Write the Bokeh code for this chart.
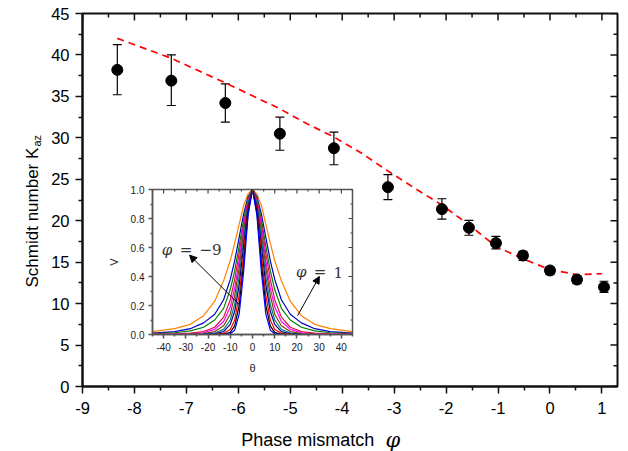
import math
from bokeh.plotting import figure
from bokeh.models import (ColumnDataSource, FixedTicker, Whisker, TeeHead,
                          Label, Arrow, NormalHead, Range1d)
from bokeh.layouts import column
from bokeh.embed import file_html
from bokeh.resources import INLINE

# ---------------- main data ----------------
phase = [-8.33, -7.29, -6.25, -5.20, -4.16, -3.12, -2.08, -1.56, -1.04, -0.52, 0.0, 0.52, 1.04]
schmidt = [38.2, 36.9, 34.2, 30.5, 28.75, 24.05, 21.4, 19.15, 17.3, 15.8, 14.0, 12.9, 12.0]
err_upper = [41.25, 40.0, 36.5, 32.5, 30.7, 25.55, 22.65, 20.05, 18.1, 16.3, 14.45, 13.35, 12.7]
err_lower = [35.2, 33.9, 31.9, 28.5, 26.75, 22.55, 20.2, 18.25, 16.6, 15.2, 13.5, 12.4, 11.35]

theory_phase = [-8.33, -7.29, -6.24, -5.2, -4.74, -4.16, -3.64, -3.12, -2.55, -2.08, -1.56,
                -1.04, -0.52, 0.0, 0.52, 1.0]
theory_k = [42.0, 39.6, 36.6, 33.5, 31.9, 30.1, 28.2, 26.0, 23.7, 21.9, 19.5,
            16.9, 15.4, 14.1, 13.5, 13.6]

x_ticks = [-9, -8, -7, -6, -5, -4, -3, -2, -1, 0, 1]
x_tick_labels = ["-9", "-8", "-7", "-6", "-5", "-4", "-3", "-2", "-1", "0", "1"]
x_minor = [-8.5, -7.5, -6.5, -5.5, -4.5, -3.5, -2.5, -1.5, -0.5, 0.5]
y_ticks = [0, 5, 10, 15, 20, 25, 30, 35, 40, 45]
y_tick_labels = ["0", "5", "10", "15", "20", "25", "30", "35", "40", "45"]
y_minor = [2.5, 7.5, 12.5, 17.5, 22.5, 27.5, 32.5, 37.5, 42.5]

# ---------------- inset data ----------------
theta = [-45, -35, -28, -22, -17, -13, -10, -8, -6, -4, -2, 0, 2, 4, 6, 8, 10, 13, 17, 22, 28, 35, 45]
v_curves = [
    [0, 0, 0, 0, 0, 0, 0.005, 0.03, 0.14, 0.43, 0.82, 1.0, 0.82, 0.43, 0.14, 0.03, 0.005, 0, 0, 0, 0, 0, 0],
    [0, 0, 0, 0, 0, 0.002, 0.015, 0.06, 0.20, 0.49, 0.84, 1.0, 0.84, 0.49, 0.20, 0.06, 0.015, 0.002, 0, 0, 0, 0, 0],
    [0, 0, 0, 0, 0.001, 0.008, 0.035, 0.10, 0.27, 0.55, 0.86, 1.0, 0.86, 0.55, 0.27, 0.10, 0.035, 0.008, 0.001, 0, 0, 0, 0],
    [0, 0, 0, 0.001, 0.005, 0.02, 0.07, 0.16, 0.34, 0.61, 0.88, 1.0, 0.88, 0.61, 0.34, 0.16, 0.07, 0.02, 0.005, 0.001, 0, 0, 0],
    [0, 0, 0.001, 0.003, 0.01, 0.035, 0.10, 0.21, 0.40, 0.66, 0.90, 1.0, 0.90, 0.66, 0.40, 0.21, 0.10, 0.035, 0.01, 0.003, 0.001, 0, 0],
    [0, 0.001, 0.002, 0.006, 0.02, 0.06, 0.14, 0.27, 0.46, 0.70, 0.91, 1.0, 0.91, 0.70, 0.46, 0.27, 0.14, 0.06, 0.02, 0.006, 0.002, 0.001, 0],
    [0.001, 0.002, 0.005, 0.012, 0.035, 0.09, 0.19, 0.32, 0.51, 0.73, 0.92, 1.0, 0.92, 0.73, 0.51, 0.32, 0.19, 0.09, 0.035, 0.012, 0.005, 0.002, 0.001],
    [0.002, 0.005, 0.01, 0.02, 0.05, 0.12, 0.24, 0.38, 0.56, 0.76, 0.93, 1.0, 0.93, 0.76, 0.56, 0.38, 0.24, 0.12, 0.05, 0.02, 0.01, 0.005, 0.002],
    [0.006, 0.012, 0.025, 0.05, 0.10, 0.18, 0.31, 0.44, 0.61, 0.79, 0.94, 1.0, 0.94, 0.79, 0.61, 0.44, 0.31, 0.18, 0.10, 0.05, 0.025, 0.012, 0.006],
    [0.01, 0.02, 0.04, 0.08, 0.14, 0.24, 0.38, 0.51, 0.67, 0.83, 0.95, 1.0, 0.95, 0.83, 0.67, 0.51, 0.38, 0.24, 0.14, 0.08, 0.04, 0.02, 0.01],
    [0.02, 0.04, 0.07, 0.13, 0.23, 0.37, 0.51, 0.63, 0.76, 0.89, 0.97, 1.0, 0.97, 0.89, 0.76, 0.63, 0.51, 0.37, 0.23, 0.13, 0.07, 0.04, 0.02],
]
v_colors = ["#0000FF", "#000000", "#FF0000", "#000080", "#008080", "#804000",
            "#FF00FF", "#E0104C", "#008000", "#0000C0", "#FF8000"]
theta_ticks = [-40, -30, -20, -10, 0, 10, 20, 30, 40]
theta_tick_labels = ["-40", "-30", "-20", "-10", "0", "10", "20", "30", "40"]
theta_minor = [-45, -35, -25, -15, -5, 5, 15, 25, 35, 45]
v_ticks = [0.0, 0.2, 0.4, 0.6, 0.8, 1.0]
v_tick_labels = ["0.0", "0.2", "0.4", "0.6", "0.8", "1.0"]
v_minor = [0.1, 0.3, 0.5, 0.7, 0.9]

SANS = "Liberation Sans"
SERIF = "DejaVu Serif"

X0, X1, Y0, Y1 = -9, 1.3, 0, 45

# ---------------- main figure ----------------
p = figure(width=628, height=451, x_range=Range1d(X0, X1), y_range=Range1d(Y0, Y1),
           output_backend="svg", toolbar_location=None, frame_align=False,
           min_border_left=82, min_border_right=11, min_border_top=13, min_border_bottom=65)
p.grid.visible = False
p.outline_line_color = "#111111"
p.outline_line_width = 2
p.background_fill_color = "white"
p.border_fill_color = "white"


def style_axis(ax, ticks, minor, labels, font="16.5px", standoff=6, tick_len=7, minor_len=4,
               color="#111111", width=2, label_color="black"):
    ax.ticker = FixedTicker(ticks=ticks, minor_ticks=minor)
    ax.axis_line_width = width
    ax.axis_line_color = color
    ax.major_tick_line_width = 1.5
    ax.minor_tick_line_width = 1.5
    ax.major_tick_line_color = color
    ax.minor_tick_line_color = color
    ax.major_tick_in = 0
    ax.major_tick_out = tick_len
    ax.minor_tick_in = 0
    ax.minor_tick_out = minor_len
    ax.major_label_overrides = {t: l for t, l in zip(ticks, labels)}
    ax.major_label_text_font = SANS
    ax.major_label_text_font_size = font
    ax.major_label_text_color = label_color
    ax.major_label_standoff = standoff


style_axis(p.xaxis[0], x_ticks, x_minor, x_tick_labels, standoff=8)
style_axis(p.yaxis[0], y_ticks, y_minor, y_tick_labels, standoff=6)

# mirrored inward ticks on top and right (dash markers clipped by the frame)
p.scatter(x_ticks, [Y1] * len(x_ticks), marker="dash", angle=math.pi / 2, size=14,
          line_color="#111111", line_width=1.5)
p.scatter(x_minor, [Y1] * len(x_minor), marker="dash", angle=math.pi / 2, size=8,
          line_color="#111111", line_width=1.5)
p.scatter([X1] * len(y_ticks), y_ticks, marker="dash", size=14, line_color="#111111", line_width=1.5)
p.scatter([X1] * len(y_minor), y_minor, marker="dash", size=8, line_color="#111111", line_width=1.5)

# theory dashed line
p.line(theory_phase, theory_k, line_color="#FF0000", line_width=1.7, line_dash="7 5")

# data with error bars
src = ColumnDataSource(dict(x=phase, y=schmidt, upper=err_upper, lower=err_lower))
wh = Whisker(source=src, base="x", upper="upper", lower="lower",
             line_color="black", line_width=1.2,
             upper_head=TeeHead(size=9, line_color="black", line_width=1.2),
             lower_head=TeeHead(size=9, line_color="black", line_width=1.2))
p.add_layout(wh)
p.scatter("x", "y", source=src, size=11, color="black")

# ---------------- inset figure ----------------
TX0, TX1, VY0, VY1 = -45, 45, 0, 1
inset = figure(width=254, height=191, x_range=Range1d(TX0, TX1), y_range=Range1d(VY0, VY1),
               output_backend="svg", toolbar_location=None, frame_align=False,
               min_border_left=45, min_border_right=6, min_border_top=4, min_border_bottom=38,
               styles={"position": "absolute", "left": "104px", "top": "185px"})
inset.grid.visible = False
inset.outline_line_color = "#555555"
inset.outline_line_width = 1.5
inset.background_fill_color = "white"
inset.border_fill_alpha = 0.0

style_axis(inset.xaxis[0], theta_ticks, theta_minor, theta_tick_labels, font="10px", standoff=4,
           tick_len=4, minor_len=2, color="#555555", width=1.5, label_color="#222222")
style_axis(inset.yaxis[0], v_ticks, v_minor, v_tick_labels, font="10px",
           standoff=4, tick_len=4, minor_len=2, color="#555555", width=1.5, label_color="#222222")
inset.xaxis[0].axis_label = "θ"
inset.yaxis[0].axis_label = "V"
for ax in (inset.xaxis[0], inset.yaxis[0]):
    ax.axis_label_text_font = SANS
    ax.axis_label_text_font_style = "normal"
    ax.axis_label_text_font_size = "11px"
    ax.axis_label_text_color = "#222222"
    ax.axis_label_standoff = 8

for vals, col in reversed(list(zip(v_curves, v_colors))):
    inset.line(theta, vals, line_color=col, line_width=1.2)

inset.scatter(theta_ticks, [VY1] * len(theta_ticks), marker="dash", angle=math.pi / 2, size=8,
              line_color="#444444", line_width=1.2)
inset.scatter(theta_minor, [VY1] * len(theta_minor), marker="dash", angle=math.pi / 2, size=4,
              line_color="#444444", line_width=1.2)
inset.scatter([TX1] * len(v_ticks), v_ticks, marker="dash", size=8, line_color="#444444", line_width=1.2)
inset.scatter([TX1] * len(v_minor), v_minor, marker="dash", size=4, line_color="#444444", line_width=1.2)

inset.add_layout(Arrow(x_start=-5.5, y_start=0.20, x_end=-28.3, y_end=0.547,
                       line_color="black", line_width=1,
                       end=NormalHead(size=7, fill_color="black", line_color="black")))
inset.add_layout(Arrow(x_start=20.3, y_start=0.13, x_end=30.1, y_end=0.40,
                       line_color="black", line_width=1,
                       end=NormalHead(size=7, fill_color="black", line_color="black")))

for txt, tx, ty, ital in [("φ", -40.8, 0.585, True), ("=", -32.7, 0.585, False), ("−9", -23.9, 0.585, False),
                          ("φ", 19.6, 0.43, True), ("=", 27.6, 0.43, False), ("1", 36.4, 0.43, False)]:
    inset.add_layout(Label(x=tx, y=ty, text=txt, text_font=SERIF,
                           text_font_style="italic" if ital else "normal",
                           text_font_size="15px", text_align="left", text_baseline="alphabetic",
                           text_color="#333333"))

# ---------------- transparent overlay (page pixel coordinates) for axis titles ----------------
W, H = 628, 451
ov = figure(width=W, height=H, x_range=Range1d(0, W), y_range=Range1d(H, 0),
            output_backend="svg", toolbar_location=None, x_axis_type=None, y_axis_type=None,
            frame_align=False, min_border=0, min_border_left=0, min_border_right=0,
            min_border_top=0, min_border_bottom=0,
            styles={"position": "absolute", "left": "0px", "top": "0px"})
ov.grid.visible = False
ov.outline_line_color = None
ov.background_fill_alpha = 0.0
ov.border_fill_alpha = 0.0

ov.add_layout(Label(x=32, y=287, text="Schmidt number K", angle=math.pi / 2,
                    text_font=SANS, text_font_size="17px", text_align="left",
                    text_baseline="alphabetic", text_color="black"))
ov.add_layout(Label(x=36, y=146, text="az", angle=math.pi / 2,
                    text_font=SANS, text_font_size="11px", text_align="left",
                    text_baseline="alphabetic", text_color="black"))
ov.add_layout(Label(x=240.7, y=439, text="Phase mismatch",
                    text_font=SANS, text_font_size="18px", text_align="left",
                    text_baseline="alphabetic", text_color="black"))
ov.add_layout(Label(x=385, y=439, text="φ",
                    text_font=SERIF, text_font_style="italic", text_font_size="21px",
                    text_align="left", text_baseline="alphabetic", text_color="black"))

layout = column(p, inset, ov, styles={"position": "relative"})
open("out.html", "w").write(file_html(layout, INLINE))
